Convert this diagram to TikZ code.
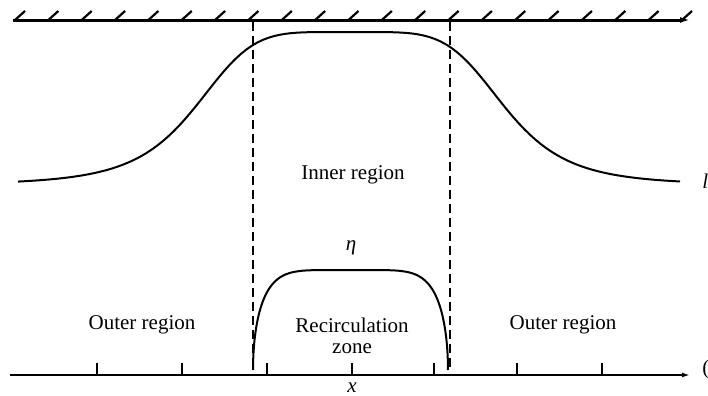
\documentclass[tikz,border=0pt]{standalone}
\usepackage{fontspec}
\setmainfont{Liberation Serif}
\usetikzlibrary{arrows.meta}

\begin{document}
\begin{tikzpicture}[x=0.5pt, y=-0.5pt,
    lbl/.style={font=\fontsize{10.5}{10.5}\selectfont, inner sep=0pt, align=center},
    mathlbl/.style={lbl, font=\fontsize{10.5}{10.5}\selectfont\itshape},
    bound/.style={black, dash pattern=on 4.5pt off 2.5pt, line width=1.1pt},
    prof/.style={black, line width=1pt}]
    \useasboundingbox (0,0) rectangle (708,396);

    % wall at the top
    \coordinate (wallL) at (13,20);
    \coordinate (wallR) at (690,20);
    \draw[line width=1.5pt, -{Latex[length=5pt,width=3pt]}] (wallL) -- (wallR);
    \foreach \i in {0,...,20}
        \draw[line width=1.1pt] ({15+33.35*\i},20) -- ++(10,-9);

    % axis at the bottom
    \coordinate (axisL) at (10,375);
    \coordinate (axisR) at (690,375);
    \draw[line width=1pt, -{Latex[length=4pt,width=2.5pt]}] (axisL) -- (axisR);
    \foreach \t in {97,182,267,352,434,517,602}
        \draw[line width=1pt] (\t,375) -- (\t,363);
    \node[mathlbl] (xlab) at (352,388) {x};

    % edges of the inner region
    \coordinate (leftTop) at (253,22);
    \coordinate (leftBot) at (253,372);
    \coordinate (rightTop) at (450,22);
    \coordinate (rightBot) at (450,372);
    \draw[bound] (leftTop) -- (leftBot);
    \draw[bound] (rightTop) -- (rightBot);

    % outer edge of the layer
    \draw[prof, domain=18:680, samples=120] plot (\x, {185 - 153/(1+(abs(\x-350)/156)^5)});

    % recirculation zone
    \draw[prof, domain=0:180, samples=120, variable=\t]
        plot ({350.5 + 97.5*cos(\t)/abs(cos(\t))^(2/3)}, {370 - 100*sin(\t)});

    \node[lbl] (inner) at (353,175) {Inner region};
    \node[lbl] (outerL) at (142,325) {Outer region};
    \node[lbl] (outerR) at (563,325) {Outer region};
    \node[lbl] (recirc) at (352,336) {Recirculation\\zone};
    \node[mathlbl] (eta) at (351,248) {η};

    % labels cut off at the right edge
    \node[mathlbl, anchor=west] (edgeM) at (702,181) {l};
    \node[lbl, anchor=west] (edgeB) at (702,369) {(};
\end{tikzpicture}
\end{document}
